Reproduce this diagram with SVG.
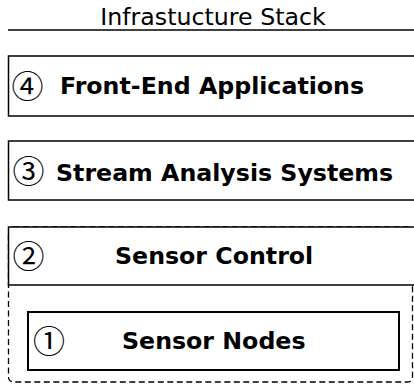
<svg xmlns="http://www.w3.org/2000/svg" width="414" height="385" viewBox="0 0 414 385">
  <style>
    .layer { fill: #ffffff; stroke: #000000; stroke-width: 1.5; }
    .inner { fill: #ffffff; stroke: #000000; stroke-width: 2; }
    .group { fill: none; stroke: #000000; stroke-width: 1.3; stroke-dasharray: 6 3.5; }
    .title { font-family: "DejaVu Sans", sans-serif; font-size: 23.7px; fill: #000000; }
    .label { font-family: "DejaVu Sans", sans-serif; font-size: 23.7px; font-weight: bold; fill: #000000; }
    .num { font-family: "Noto Sans CJK JP", "DejaVu Sans", sans-serif; font-size: 32px; fill: #000000; }
  </style>

  <!-- heading -->
  <text class="title" x="213" y="25" text-anchor="middle">Infrastucture Stack</text>
  <line x1="8" y1="30" x2="414" y2="30" stroke="#000000" stroke-width="1.5"/>

  <!-- dashed region grouping sensor control with the sensor nodes -->
  <g id="sensor-group">
    <rect class="group" x="8.5" y="227" width="404" height="155" rx="5" ry="5"/>
  </g>

  <g id="layer4">
    <rect class="layer" x="8.5" y="56" width="420" height="60"/>
    <text class="num" x="11.5" y="98">④</text>
    <text class="label" x="60" y="94">Front-End Applications</text>
  </g>

  <g id="layer3">
    <rect class="layer" x="8.5" y="141" width="420" height="59"/>
    <text class="num" x="12.5" y="183">③</text>
    <text class="label" x="56" y="181">Stream Analysis Systems</text>
  </g>

  <g id="layer2">
    <rect class="layer" x="8.5" y="227" width="420" height="58"/>
    <text class="num" x="12.5" y="268">②</text>
    <text class="label" x="115" y="264">Sensor Control</text>
  </g>

  <g id="layer1">
    <rect class="inner" x="28" y="312" width="371" height="58"/>
    <text class="num" x="33" y="353">①</text>
    <text class="label" x="122" y="349">Sensor Nodes</text>
  </g>

  <g id="connectors"></g>
</svg>
